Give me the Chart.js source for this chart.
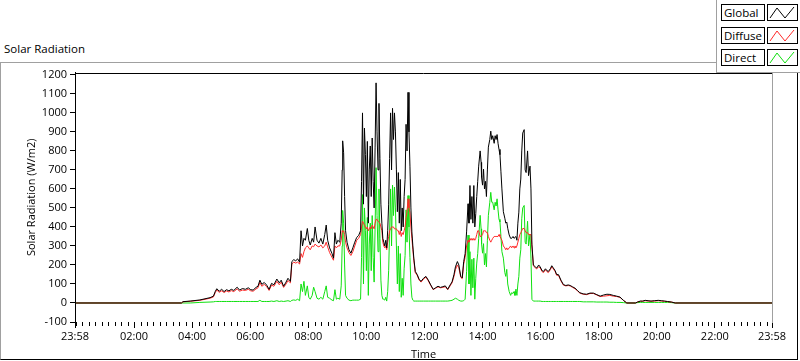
<!DOCTYPE html>
<html>
<head>
<meta charset="utf-8">
<script src="https://cdn.jsdelivr.net/npm/chart.js@4.4.1/dist/chart.umd.min.js"></script>
<style>
  body { margin: 0; width: 800px; height: 361px; background: #fff; position: relative; overflow: hidden; font-family: 'Open Sans', sans-serif; }
  #cap { position: absolute; left: 4px; top: 41px; font-size: 11.5px; color: #000; }
  #chart { position: absolute; left: 1px; top: 63px; }
  #frame { position: absolute; left: 0; top: 62px; width: 798px; height: 298px; box-sizing: border-box;
           border-top: 1px solid #a0a0a0; border-left: 1px solid #a0a0a0; border-right: 1px solid #000; border-bottom: 1px solid #000; pointer-events: none; }
  #legend { position: absolute; left: 716px; top: 0; width: 84px; height: 72px; background: #fff;
            border-left: 1px solid #a0a0a0; border-bottom: 1px solid #a0a0a0; }
  .lab { position: absolute; left: 4px; width: 44px; height: 17px; box-sizing: border-box; border: 1px solid #000;
         font-size: 11.5px; line-height: 15px; padding-left: 2px; color: #000; }
  .sw { position: absolute; left: 50px; width: 31px; height: 17px; box-sizing: border-box; border: 1px solid #000; }
  .sw svg { position: absolute; left: 0; top: 0; }
</style>
</head>
<body>
<div id="cap">Solar Radiation</div>
<canvas id="chart" width="796" height="298"></canvas>
<div id="frame"></div>
<div id="legend">
  <div class="lab" style="top:4px">Global</div>
  <div class="sw" style="top:4px"><svg width="29" height="15"><polyline points="2,13 9,3 17,13 26,2" fill="none" stroke="#000" stroke-width="1"/></svg></div>
  <div class="lab" style="top:27px">Diffuse</div>
  <div class="sw" style="top:27px"><svg width="29" height="15"><polyline points="2,13 9,3 17,13 26,2" fill="none" stroke="#ff2a2a" stroke-width="1"/></svg></div>
  <div class="lab" style="top:49px">Direct</div>
  <div class="sw" style="top:49px"><svg width="29" height="15"><polyline points="2,13 9,3 17,13 26,2" fill="none" stroke="#10e010" stroke-width="1"/></svg></div>
</div>
<script>
// sample times (HH:MM)
const times = [
  '00:00','03:38','03:41','03:56','04:16','04:37','04:44','04:48','04:51','04:56',
  '05:01','05:06','05:11','05:16','05:21','05:26','05:33','05:38','05:44','05:50',
  '05:56','06:01','06:06','06:12','06:16','06:20','06:24','06:29','06:34','06:39',
  '06:44','06:49','06:55','07:00','07:04','07:09','07:14','07:18','07:23','07:26',
  '07:30','07:34','07:38','07:42','07:45','07:48','07:51','07:54','07:58','08:01',
  '08:04','08:08','08:11','08:14','08:18','08:22','08:26','08:30','08:34','08:37',
  '08:40','08:44','08:49','08:52','08:55','08:58','09:01','09:05','09:08','09:10',
  '09:11','09:13','09:15','09:17','09:20','09:24','09:28','09:32','09:36','09:40',
  '09:44','09:48','09:50','09:52','09:54','09:56','09:58','10:00','10:02','10:04',
  '10:06','10:08','10:10','10:12','10:14','10:16','10:18','10:20','10:22','10:24',
  '10:26','10:28','10:30','10:32','10:34','10:36','10:38','10:40','10:42','10:44',
  '10:46','10:48','10:50','10:52','10:54','10:56','10:58','11:00','11:02','11:04',
  '11:06','11:08','11:10','11:12','11:14','11:16','11:18','11:20','11:22','11:24',
  '11:26','11:28','11:30','11:32','11:34','11:36','11:38','11:41','11:45','11:49',
  '11:53','11:58','12:03','12:08','12:13','12:18','12:23','12:28','12:33','12:38',
  '12:43','12:48','12:53','12:57','13:01','13:04','13:08','13:11','13:15','13:18',
  '13:21','13:24','13:27','13:30','13:32','13:34','13:36','13:38','13:40','13:42',
  '13:44','13:46','13:48','13:50','13:52','13:55','13:57','13:58','14:00','14:02',
  '14:04','14:06','14:08','14:10','14:12','14:15','14:17','14:19','14:21','14:24',
  '14:26','14:28','14:30','14:32','14:34','14:36','14:38','14:40','14:43','14:46',
  '14:48','14:50','14:52','14:55','14:58','15:00','15:03','15:05','15:07','15:09',
  '15:11','15:13','15:15','15:17','15:19','15:21','15:23','15:26','15:28','15:30',
  '15:33','15:35','15:38','15:40','15:42','15:45','15:49','15:52','15:56','15:59',
  '16:03','16:06','16:10','16:13','16:16','16:20','16:23','16:26','16:30','16:33',
  '16:37','16:42','16:47','16:52','16:57','17:01','17:06','17:11','17:16','17:21',
  '17:28','17:35','17:42','17:49','17:56','18:03','18:10','18:17','18:23','18:30',
  '18:37','18:44','18:51','18:58','19:16','19:20','19:26','19:31','19:36','19:42',
  '19:48','19:55','20:03','20:10','20:16','20:22','20:30','20:38','23:58'
];

const globalRad = [
  0,0,7,10,16,28,36,62,75,62,
  72,60,70,64,72,66,83,68,76,72,
  80,70,68,82,88,120,98,108,94,72,
  103,96,126,106,120,88,110,130,114,218,
  228,222,232,215,380,300,340,330,392,330,
  305,340,320,400,330,315,340,310,360,410,
  330,290,260,236,370,310,330,320,420,700,
  853,790,560,380,320,280,262,290,320,345,
  355,380,640,1000,520,920,780,560,850,420,
  700,826,560,868,640,500,820,1158,900,700,
  1050,760,520,420,340,320,300,330,290,380,
  520,760,1000,700,1024,860,1000,900,700,480,
  686,420,650,380,500,400,560,650,940,800,
  1108,900,720,500,374,300,236,166,150,124,
  114,130,140,120,95,72,80,88,82,86,
  90,72,95,111,150,190,218,200,140,132,
  218,260,374,522,420,618,440,560,420,618,
  400,470,560,640,720,800,740,660,620,704,
  600,640,560,700,820,860,904,860,880,840,
  880,860,886,840,808,780,690,600,480,446,
  420,426,393,358,340,340,350,340,340,350,
  330,420,478,600,652,800,894,912,700,686,
  800,670,720,600,306,200,190,184,200,190,
  170,166,180,170,166,180,196,185,170,150,
  149,120,97,92,95,92,85,78,66,54,
  48,46,52,52,44,36,42,46,45,40,
  36,31,14,0,0,5,10,10,14,12,
  10,12,14,12,10,8,5,0,0
];

const diffuseRad = [
  0,0,6,9,14,25,32,56,68,56,
  64,55,63,58,65,60,74,62,68,66,
  72,64,62,74,80,108,88,98,86,66,
  94,88,114,96,110,82,100,118,106,205,
  215,210,215,205,260,240,270,290,300,290,
  280,300,296,310,300,295,305,290,300,320,
  295,265,240,225,300,290,300,300,330,380,
  374,380,360,320,290,265,250,270,300,330,
  340,360,400,430,420,410,400,390,400,380,
  390,400,390,410,400,390,420,440,440,430,
  430,420,400,380,320,300,290,300,280,320,
  350,380,390,400,400,400,390,390,390,380,
  380,360,380,350,370,360,380,400,450,480,
  548,500,478,400,340,280,225,160,145,120,
  110,126,136,116,92,70,78,85,80,82,
  86,70,90,106,140,176,200,185,135,128,
  205,240,300,330,320,340,330,340,330,340,
  330,340,360,380,380,350,350,350,360,380,
  380,380,370,370,350,330,320,330,340,350,
  350,350,350,350,360,350,340,330,300,290,
  280,290,280,290,300,290,300,290,300,290,
  300,320,340,360,370,380,392,392,380,370,
  370,360,360,360,300,195,185,180,190,185,
  165,160,175,165,160,175,190,180,165,146,
  145,116,94,90,92,90,82,75,64,52,
  46,44,50,50,42,34,36,38,40,36,
  34,30,14,0,0,5,9,9,12,10,
  9,10,12,10,9,7,5,0,0
];

const directRad = [
  0,0,0,0,3,5,6,8,8,8,
  8,8,8,8,8,8,8,8,8,8,
  8,8,8,8,8,14,8,8,8,8,
  10,8,12,8,10,8,10,12,8,14,
  16,14,20,12,100,60,114,40,90,30,
  20,40,83,60,25,20,30,20,60,90,
  30,25,15,12,70,20,25,20,90,300,
  487,420,200,40,25,15,12,15,15,15,
  15,20,240,570,100,500,380,170,450,40,
  310,420,170,460,240,110,400,712,460,270,
  600,340,120,40,20,20,15,30,10,60,
  170,380,600,300,620,460,610,500,300,100,
  300,60,260,30,130,40,180,250,490,320,
  565,400,240,100,30,15,10,10,10,10,
  10,10,10,10,10,10,10,10,10,10,
  10,10,12,14,20,25,20,14,10,10,
  12,20,166,357,100,270,40,230,80,236,
  20,130,210,260,340,461,390,310,262,312,
  200,260,190,330,461,530,582,530,530,490,
  530,510,548,490,440,426,350,270,236,160,
  140,177,100,60,40,54,50,60,40,73,
  40,100,140,236,280,443,500,513,320,310,
  430,300,360,236,19,10,10,10,10,10,
  8,8,8,8,8,8,8,8,8,8,
  8,8,8,8,8,8,8,8,8,8,
  6,6,6,6,5,5,5,5,4,4,
  3,3,2,0,0,2,3,3,3,3,
  3,3,3,3,3,3,2,0,0
];

// axis ticks
const xTickMinutes = [-2, 120, 240, 360, 480, 600, 720, 840, 960, 1080, 1200, 1320, 1438];
const xTickLabels = ['23:58','02:00','04:00','06:00','08:00','10:00','12:00','14:00','16:00','18:00','20:00','22:00','23:58'];
const yTicks = [-100, 0, 100, 200, 300, 400, 500, 600, 700, 800, 900, 1000, 1100, 1200];

const toMin = s => { const p = s.split(':'); return +p[0] * 60 + +p[1]; };
const pts = arr => arr.map((v, i) => ({ x: toMin(times[i]), y: v }));

const font = { family: "'Open Sans', sans-serif", size: 11 };

// plot border (top black, right gray) and small minor ticks on the time axis
const plotFrame = {
  id: 'plotFrame',
  afterDraw(chart) {
    const { ctx, chartArea: a } = chart;
    const xs = chart.scales.x;
    const l = Math.round(a.left), r = Math.round(a.right), t = Math.round(a.top), b = Math.round(a.bottom);
    ctx.save();
    ctx.lineWidth = 1;
    ctx.strokeStyle = '#000';
    ctx.beginPath();
    ctx.moveTo(l, t + 0.5); ctx.lineTo(r, t + 0.5);
    ctx.stroke();
    ctx.strokeStyle = '#a0a0a0';
    ctx.beginPath();
    ctx.moveTo(r + 0.5, t); ctx.lineTo(r + 0.5, b + 1);
    ctx.stroke();
    ctx.strokeStyle = '#000';
    ctx.beginPath();
    for (let h = 0; h < 1440; h += 120) {
      for (let k = 0; k < 9; k++) {
        if (k === 0 && h > 0) continue;
        const m = h + k * 120 / 9;
        if (m < -2 || m > 1438) continue;
        const px = Math.round(xs.getPixelForValue(m)) + 0.5;
        ctx.moveTo(px, b); ctx.lineTo(px, b + 4);
      }
    }
    ctx.stroke();
    ctx.restore();
  }
};

new Chart(document.getElementById('chart'), {
  type: 'line',
  data: {
    datasets: [
      { label: 'Global', data: pts(globalRad), borderColor: '#000', borderWidth: 1 },
      { label: 'Diffuse', data: pts(diffuseRad), borderColor: '#ff2a2a', borderWidth: 1 },
      { label: 'Direct', data: pts(directRad), borderColor: '#10e010', borderWidth: 1 }
    ]
  },
  options: {
    responsive: false,
    animation: false,
    devicePixelRatio: 1,
    parsing: false,
    elements: { point: { radius: 0 }, line: { tension: 0 } },
    layout: { padding: { top: 7, right: 25, left: 0, bottom: 0 } },
    plugins: { legend: { display: false }, tooltip: { enabled: false } },
    scales: {
      x: {
        type: 'linear',
        min: -2,
        max: 1438,
        afterBuildTicks: scale => { scale.ticks = xTickMinutes.map(v => ({ value: v })); },
        afterFit: scale => { scale.height = 39; },
        ticks: { autoSkip: false, maxRotation: 0, color: '#000', font: font, padding: 2,
                 callback: (v, i) => xTickLabels[i] },
        grid: { drawOnChartArea: false, tickLength: 6, color: '#000' },
        border: { display: false },
        title: { display: true, text: 'Time', color: '#000', font: font, padding: { top: 0, bottom: 0 } }
      },
      y: {
        min: -100,
        max: 1212,
        afterBuildTicks: scale => { scale.ticks = yTicks.map(v => ({ value: v })); },
        afterFit: scale => { scale.width = 74; },
        ticks: { color: '#000', font: font, padding: 3, callback: v => String(v) },
        grid: { drawOnChartArea: false, tickLength: 5, color: '#000' },
        border: { display: true, color: '#000', width: 1 },
        title: { display: true, text: 'Solar Radiation (W/m2)', color: '#000', font: font, padding: { top: 24, bottom: 0 } }
      }
    }
  },
  plugins: [plotFrame]
});
</script>
</body>
</html>
